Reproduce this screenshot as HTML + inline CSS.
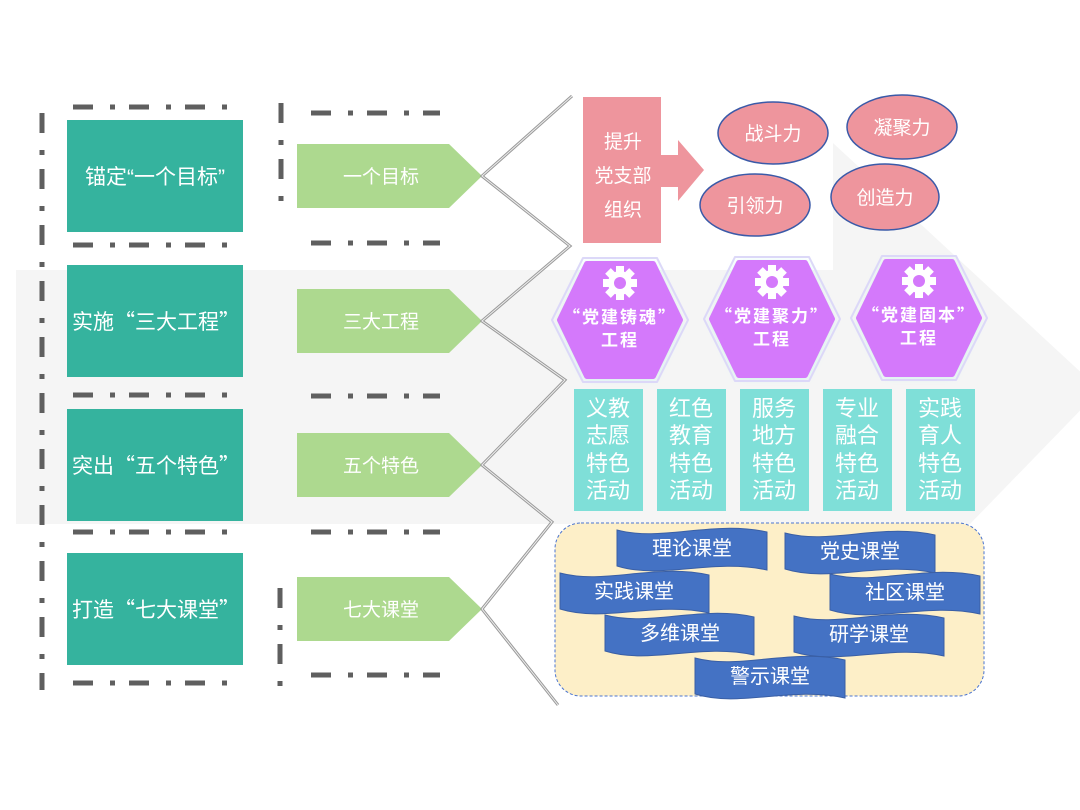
<!DOCTYPE html>
<html><head><meta charset="utf-8"><style>
html,body{margin:0;padding:0;background:#fff}
svg{display:block}
text{font-family:"Liberation Sans","Noto Sans CJK SC",sans-serif;fill:#fff}
.cjk{font-family:"Noto Sans CJK SC",sans-serif}
</style></head><body>
<svg width="1080" height="810" viewBox="0 0 1080 810" xmlns="http://www.w3.org/2000/svg">
<defs>
<filter id="glow" x="-30%" y="-30%" width="160%" height="160%"><feGaussianBlur stdDeviation="4"/></filter>
<g id="gear">
<circle r="12" fill="#fff"/>
<g fill="#fff"><rect x="-4" y="-17" width="8" height="34"/><rect x="-4" y="-17" width="8" height="34" transform="rotate(45)"/><rect x="-4" y="-17" width="8" height="34" transform="rotate(90)"/><rect x="-4" y="-17" width="8" height="34" transform="rotate(135)"/></g>
<circle r="6" fill="#d479fb"/>
</g>
<g id="hex">
<polygon points="-34,-56 34,-56 60,2 34,58 -34,58 -60,2" fill="#9ff0ea" filter="url(#glow)" opacity="0.7"/>
<polygon points="-37,-62 37,-62 68,0 37,62 -37,62 -68,0" fill="none" stroke="#dcd8f8" stroke-width="2" stroke-linejoin="round"/>
<polygon points="-33,-56 33,-56 60,0 33,56 -33,56 -60,0" fill="#d479fb" stroke="#d479fb" stroke-width="6" stroke-linejoin="round"/>
</g>
</defs>
<polygon points="16,270 833,270 833,143 1100,390 970,524 16,524" fill="#f5f5f5"/>
<rect x="0" y="95" width="560" height="175" fill="#fff"/>
<g stroke="#5f5f5f" stroke-width="5" fill="none" stroke-dasharray="20 17 5 14">
<line x1="73" y1="107" x2="230" y2="107"/>
<line x1="73" y1="245" x2="230" y2="245"/>
<line x1="73" y1="395" x2="230" y2="395"/>
<line x1="73" y1="532" x2="230" y2="532"/>
<line x1="73" y1="683" x2="230" y2="683"/>
<line x1="311" y1="113" x2="440" y2="113"/>
<line x1="311" y1="243" x2="440" y2="243"/>
<line x1="311" y1="396" x2="440" y2="396"/>
<line x1="311" y1="532" x2="440" y2="532"/>
<line x1="311" y1="675" x2="440" y2="675"/>
<line x1="42" y1="113" x2="42" y2="690"/>
<line x1="281" y1="103" x2="281" y2="205"/>
<line x1="280" y1="588" x2="280" y2="690"/>
</g>
<g fill="#35b39e">
<rect x="67" y="120" width="176" height="112"/>
<rect x="67" y="265" width="176" height="112"/>
<rect x="67" y="409" width="176" height="112"/>
<rect x="67" y="553" width="176" height="112"/>
</g>
<g font-size="21">
<text x="155" y="184" text-anchor="middle">锚定“一个目标”</text>
<text x="72" y="329">实施<tspan class="cjk">“</tspan>三大工程<tspan class="cjk">”</tspan></text>
<text x="72" y="473">突出<tspan class="cjk">“</tspan>五个特色<tspan class="cjk">”</tspan></text>
<text x="72" y="617">打造<tspan class="cjk">“</tspan>七大课堂<tspan class="cjk">”</tspan></text>
</g>
<g fill="#add98f">
<polygon points="297,144 449,144 482,176 449,208 297,208"/>
<polygon points="297,289 449,289 482,321 449,353 297,353"/>
<polygon points="297,433 449,433 482,465 449,497 297,497"/>
<polygon points="297,577 449,577 482,609 449,641 297,641"/>
</g>
<g font-size="19" text-anchor="middle">
<text x="381" y="183">一个目标</text>
<text x="381" y="328">三大工程</text>
<text x="381" y="472">五个特色</text>
<text x="381" y="616">七大课堂</text>
</g>
<polyline points="572,96 482,176 570,246 482,321 565,380 482,465 552,522 482,609 558,705" fill="none" stroke="#9a9a9a" stroke-width="3"/>
<polyline points="572,96 482,176 570,246 482,321 565,380 482,465 552,522 482,609 558,705" fill="none" stroke="#eee" stroke-width="1"/>
<rect x="583" y="97" width="78" height="146" fill="#ee959d"/>
<polygon points="660,155 678,155 678,140 704,170 678,201 678,187 660,187" fill="#ee959d"/>
<g font-size="19" text-anchor="middle">
<text x="623" y="148">提升</text>
<text x="623" y="182">党支部</text>
<text x="623" y="216">组织</text>
</g>
<g fill="#ee959d" stroke="#3a5aa8" stroke-width="1.5">
<ellipse cx="773" cy="133" rx="55" ry="31"/>
<ellipse cx="902" cy="127" rx="55" ry="32"/>
<ellipse cx="755" cy="205" rx="55" ry="31"/>
<ellipse cx="885" cy="197" rx="54" ry="33"/>
</g>
<g font-size="19" text-anchor="middle">
<text x="773" y="140">战斗力</text>
<text x="902" y="134">凝聚力</text>
<text x="755" y="212">引领力</text>
<text x="885" y="204">创造力</text>
</g>
<g transform="translate(620,320)"><use href="#hex"/><use href="#gear" y="-37"/>
<text y="3" font-size="17" font-weight="bold" text-anchor="middle" letter-spacing="2"><tspan class="cjk">“</tspan>党建铸魂<tspan class="cjk">”</tspan></text>
<text y="26" font-size="17" font-weight="bold" text-anchor="middle" letter-spacing="2">工程</text></g>
<g transform="translate(772,319)"><use href="#hex"/><use href="#gear" y="-37"/>
<text y="3" font-size="17" font-weight="bold" text-anchor="middle" letter-spacing="2"><tspan class="cjk">“</tspan>党建聚力<tspan class="cjk">”</tspan></text>
<text y="26" font-size="17" font-weight="bold" text-anchor="middle" letter-spacing="2">工程</text></g>
<g transform="translate(919,318)"><use href="#hex"/><use href="#gear" y="-37"/>
<text y="3" font-size="17" font-weight="bold" text-anchor="middle" letter-spacing="2"><tspan class="cjk">“</tspan>党建固本<tspan class="cjk">”</tspan></text>
<text y="26" font-size="17" font-weight="bold" text-anchor="middle" letter-spacing="2">工程</text></g>
<g fill="#7fdfd8">
<rect x="574" y="389" width="69" height="122"/>
<rect x="657" y="389" width="69" height="122"/>
<rect x="740" y="389" width="69" height="122"/>
<rect x="823" y="389" width="69" height="122"/>
<rect x="906" y="389" width="69" height="122"/>
</g>
<g font-size="22" text-anchor="middle">
<text x="608" y="416">义教</text><text x="608" y="443">志愿</text><text x="608" y="471">特色</text><text x="608" y="498">活动</text>
<text x="691" y="416">红色</text><text x="691" y="443">教育</text><text x="691" y="471">特色</text><text x="691" y="498">活动</text>
<text x="774" y="416">服务</text><text x="774" y="443">地方</text><text x="774" y="471">特色</text><text x="774" y="498">活动</text>
<text x="857" y="416">专业</text><text x="857" y="443">融合</text><text x="857" y="471">特色</text><text x="857" y="498">活动</text>
<text x="940" y="416">实践</text><text x="940" y="443">育人</text><text x="940" y="471">特色</text><text x="940" y="498">活动</text>
</g>
<rect x="555" y="523" width="429" height="173" rx="26" fill="#fdefc8" stroke="#4a74d0" stroke-width="1" stroke-dasharray="3 2"/>
<g fill="#4472c4" stroke="#3a5fa5" stroke-width="1">
<path d="M617,530 C662,542 712,520 767,532 L767,570 C712,558 662,580 617,566 Z"/>
<path d="M785,533 C830,545 880,523 935,535 L935,573 C880,561 830,583 785,569 Z"/>
<path d="M560,573 C605,585 655,563 709,575 L709,613 C655,601 605,623 560,609 Z"/>
<path d="M830,574 C875,586 925,564 980,576 L980,614 C925,602 875,624 830,610 Z"/>
<path d="M605,615 C650,627 700,605 754,617 L754,655 C700,643 650,665 605,651 Z"/>
<path d="M794,616 C839,628 889,606 944,618 L944,656 C889,644 839,666 794,652 Z"/>
<path d="M695,658 C740,670 790,648 845,660 L845,698 C790,686 740,708 695,694 Z"/>
</g>
<g font-size="20" text-anchor="middle">
<text x="692" y="555">理论课堂</text>
<text x="860" y="558">党史课堂</text>
<text x="634" y="598">实践课堂</text>
<text x="905" y="599">社区课堂</text>
<text x="680" y="640">多维课堂</text>
<text x="869" y="641">研学课堂</text>
<text x="770" y="683">警示课堂</text>
</g>
</svg>
</body></html>
